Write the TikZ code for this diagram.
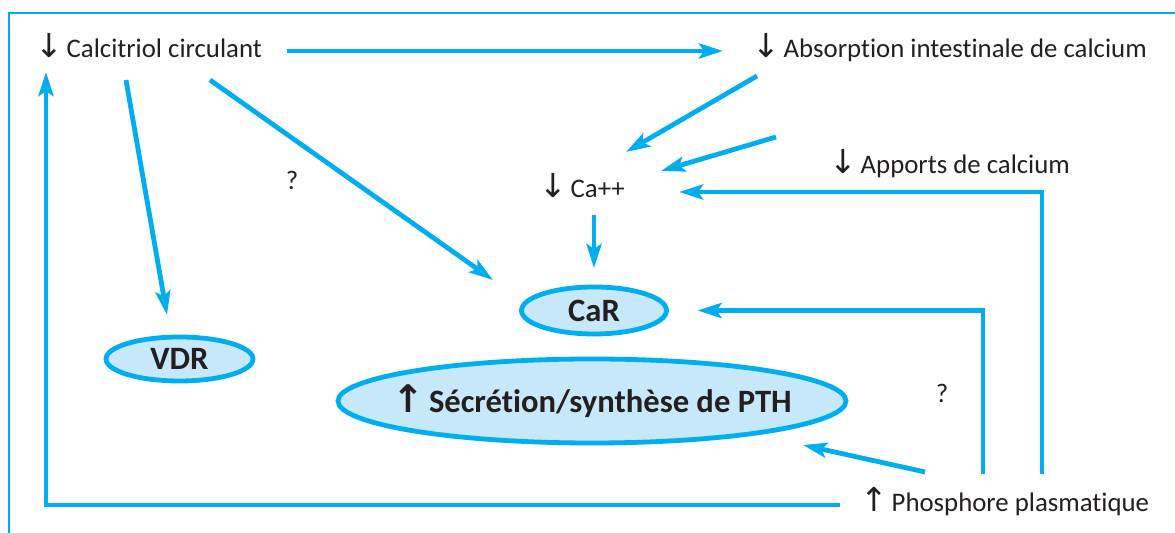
\documentclass[tikz,border=0pt]{standalone}
\usepackage{fontspec}
\setmainfont{Carlito}[Ligatures=NoCommon]
\newfontfamily\arrowfont{DejaVu Sans}
\usetikzlibrary{arrows.meta,calc,shapes.geometric}
\definecolor{cyanline}{HTML}{00AEEF}
\definecolor{palecyan}{HTML}{C6E8F8}
\definecolor{ink}{HTML}{231F20}
\newcommand{\baisse}{{\arrowfont\fontsize{16.5}{16}\selectfont ↓}\hspace{0.15em}}
\newcommand{\hausse}{{\arrowfont\fontsize{16.5}{16}\selectfont ↑}\hspace{0.15em}}
\tikzset{
  txt/.style={inner sep=0pt, outer sep=0pt, anchor=base west, text=ink, font=\fontsize{13.4}{16}\selectfont},
  oval/.style={ellipse, draw=cyanline, fill=palecyan, line width=2.4pt, inner sep=0pt, outer sep=0pt, text=ink, font=\fontsize{16.3}{19}\selectfont\bfseries},
  arr/.style={-{Stealth[length=12pt, width=7.5pt, inset=2.5pt]}, line width=2.4pt, cyanline},
  frame/.style={cyanline, line width=1pt},
}

\begin{document}
\begin{tikzpicture}[x=0.5pt, y=-0.5pt]
  \useasboundingbox (0,0) rectangle (1175,533);
  \draw[frame] (9,533) -- (9,13) -- (1175,13);
  % texts
  \node[txt] (calc) at (35,58) {\baisse Calcitriol circulant};
  \node[txt] (abs) at (752,58) {\baisse Absorption intestinale de calcium};
  \node[txt] (ca) at (539,198) {\baisse Ca++};
  \node[txt] (app) at (829,174) {\baisse Apports de calcium};
  \node[txt] (pho) at (860,512) {\hausse Phosphore plasmatique};
  \node[txt, anchor=base] (q1) at (292,190) {?};
  \node[txt, anchor=base] (q2) at (942,403) {?};
  % ellipses
  \node[oval, minimum width=72.5pt, minimum height=23.5pt] (car) at (594,310.5) {CaR};
  \node[oval, minimum width=73.5pt, minimum height=22pt] (vdr) at (179.5,359) {VDR};
  \node[oval, minimum width=254pt, minimum height=42pt] (pth) at (592,401) {\makebox[0pt]{{\arrowfont\fontsize{19}{19}\selectfont ↑}\hspace{0.15em}Sécrétion/synthèse de PTH}};
  % connectors
  \draw[arr] ($(calc.base west)+(252,-7)$) -- ($(abs.base west)+(-29,-7)$);
  \draw[arr] ($(abs.base west)+(5,18)$) -- ($(ca.base west)+(87,-46)$);
  \draw[arr] ($(app.base west)+(-53,-37)$) -- ($(ca.base west)+(122,-27)$);
  \draw[arr] ($(pho.base west)+(182,-38)$) |- ($(ca.base west)+(140,-6)$);
  \draw[arr] ($(pho.base west)+(123,-38)$) |- ($(car.east)+(31,0)$);
  \draw[arr] ($(ca.base west)+(55,17)$) -- ($(car.north)+(0,-19)$);
  \draw[arr] ($(calc.base west)+(175,22)$) -- ($(car)+(-101,-30.5)$);
  \draw[arr] ($(calc.base west)+(91,22)$) -- ($(vdr.north)+(-12.5,-22)$);
  \draw[arr] ($(pho.base west)+(65,-40)$) -- ($(pth)+(211,44)$);
  \draw[arr] ($(pho.base west)+(-20,-7)$) -| ($(calc.base west)+(11,14)$);
\end{tikzpicture}
\end{document}
